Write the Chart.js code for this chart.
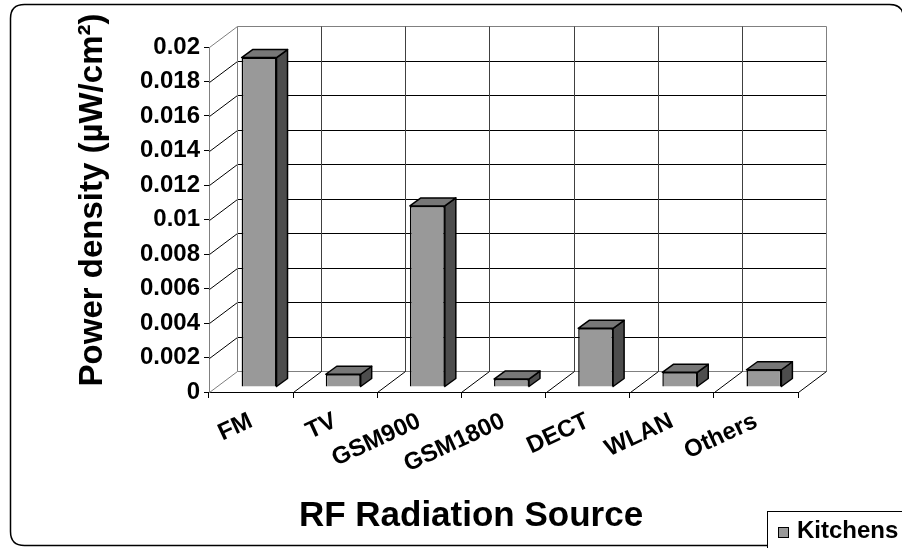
<!DOCTYPE html>
<html>
<head>
<meta charset="utf-8">
<title>RF Radiation Source - Kitchens</title>
<script src="https://cdn.jsdelivr.net/npm/chart.js@4.4.1/dist/chart.umd.min.js"></script>
<style>
    body { margin: 0; background: #fff; }
    #wrap { width: 902px; height: 548px; }
</style>
</head>
<body>
<div id="wrap"><canvas id="rfChart" width="902" height="548"></canvas></div>
<script>
// Chart data
var sources = ['FM', 'TV', 'GSM900', 'GSM1800', 'DECT', 'WLAN', 'Others'];
var kitchens = [0.0191, 0.00074, 0.0105, 0.00046, 0.0034, 0.00085, 0.001];
var seriesName = 'Kitchens';
var yMax = 0.02;
var yStep = 0.002;
var xTitle = 'RF Radiation Source';
var yTitle = 'Power density (\u00b5W/cm\u00b2)';

(function () {
    'use strict';

    var FONT = '"Liberation Sans", Arial, sans-serif';
    // 3D look of the old spreadsheet chart
    var wallDx = 28, wallDy = -21;     // depth of the floor / side wall
    var shiftX = 8, shiftY = -5;       // bars sit a bit back from the front plane
    var barDx = 11, barDy = -8;        // depth of each bar
    var frontFill = '#999999', topFill = '#777777', sideFill = '#4d4d4d';

    function line(ctx, x1, y1, x2, y2, color) {
        ctx.beginPath();
        ctx.strokeStyle = color;
        ctx.moveTo(x1, y1);
        ctx.lineTo(x2, y2);
        ctx.stroke();
    }

    function roundRect(ctx, x, y, w, h, r) {
        ctx.beginPath();
        ctx.moveTo(x + r, y);
        ctx.lineTo(x + w - r, y);
        ctx.quadraticCurveTo(x + w, y, x + w, y + r);
        ctx.lineTo(x + w, y + h - r);
        ctx.quadraticCurveTo(x + w, y + h, x + w - r, y + h);
        ctx.lineTo(x + r, y + h);
        ctx.quadraticCurveTo(x, y + h, x, y + h - r);
        ctx.lineTo(x, y + r);
        ctx.quadraticCurveTo(x, y, x + r, y);
        ctx.closePath();
    }

    var excel3d = {
        id: 'excel3d',
        beforeDraw: function (chart) {
            var ctx = chart.ctx;
            ctx.save();
            ctx.fillStyle = '#fff';
            ctx.fillRect(0, 0, chart.width, chart.height);
            ctx.lineWidth = 1.5;
            ctx.strokeStyle = '#000';
            roundRect(ctx, 10.5, 4.5, 893, 541, 14);
            ctx.stroke();
            ctx.restore();
        },
        beforeDatasetsDraw: function (chart) {
            var ctx = chart.ctx;
            var a = chart.chartArea;
            var xs = chart.scales.x, ys = chart.scales.y;
            var left = Math.round(a.left) + 0.5, right = Math.round(a.right) + 0.5;
            var bottom = Math.round(a.bottom) + 0.5;
            var n = sources.length;

            ctx.save();
            ctx.lineWidth = 1;

            // side wall diagonals and back wall horizontal lines
            ys.ticks.forEach(function (t) {
                var py = Math.round(ys.getPixelForValue(t.value)) + 0.5;
                var edge = (t.value === 0 || Math.abs(t.value - yMax) < 1e-9);
                var c = edge ? '#808080' : '#000';
                if (t.value !== 0) {
                    line(ctx, left, py, left + wallDx, py + wallDy, c);
                }
                line(ctx, left + wallDx, py + wallDy, right + wallDx, py + wallDy, c);
            });

            var topBack = Math.round(ys.getPixelForValue(yMax)) + 0.5 + wallDy;
            // back wall verticals and floor diagonals at category boundaries
            for (var i = 0; i <= n; i++) {
                var bx = Math.round(xs.getPixelForValue(i - 0.5)) + 0.5;
                var edge = (i === 0 || i === n);
                line(ctx, bx + wallDx, bottom + wallDy, bx + wallDx, topBack, edge ? '#808080' : '#404040');
                line(ctx, bx, bottom, bx + wallDx, bottom + wallDy, i === 0 ? '#808080' : '#000');
            }
            ctx.restore();

            // bars are drawn a little behind the front plane
            ctx.save();
            ctx.translate(shiftX, shiftY);
        },
        afterDatasetsDraw: function (chart) {
            var ctx = chart.ctx;
            var meta = chart.getDatasetMeta(0);

            ctx.lineWidth = 1.5;
            ctx.strokeStyle = '#000';
            ctx.lineJoin = 'round';
            meta.data.forEach(function (bar) {
                var p = bar.getProps(['x', 'y', 'base', 'width'], true);
                var L = p.x - p.width / 2, R = p.x + p.width / 2;
                var top = p.y, base = p.base;

                // side face
                ctx.beginPath();
                ctx.moveTo(R, top);
                ctx.lineTo(R + barDx, top + barDy);
                ctx.lineTo(R + barDx, base + barDy);
                ctx.lineTo(R, base);
                ctx.closePath();
                ctx.fillStyle = sideFill;
                ctx.fill();
                ctx.stroke();

                // top face
                ctx.beginPath();
                ctx.moveTo(L, top);
                ctx.lineTo(L + barDx, top + barDy);
                ctx.lineTo(R + barDx, top + barDy);
                ctx.lineTo(R, top);
                ctx.closePath();
                ctx.fillStyle = topFill;
                ctx.fill();
                ctx.stroke();
            });
            ctx.restore();
        },
        afterDraw: function (chart) {
            var ctx = chart.ctx;
            ctx.save();
            ctx.fillStyle = '#000';

            // axis titles
            ctx.font = 'bold 35px ' + FONT;
            ctx.textAlign = 'center';
            ctx.textBaseline = 'middle';
            ctx.fillText(xTitle, 471, 516);

            ctx.save();
            ctx.translate(93, 200);
            ctx.rotate(-Math.PI / 2);
            ctx.font = 'bold 33px ' + FONT;
            ctx.fillText(yTitle, 0, 0);
            ctx.restore();

            // legend box in the lower right corner
            var ds = chart.data.datasets[0];
            ctx.lineWidth = 1;
            ctx.strokeStyle = '#000';
            ctx.fillStyle = '#fff';
            ctx.fillRect(767, 511, 160, 60);
            ctx.strokeRect(767.5, 511.5, 160, 60);
            ctx.fillStyle = ds.backgroundColor;
            ctx.fillRect(778, 527, 11, 11);
            ctx.strokeRect(778.5, 527.5, 10, 10);
            ctx.fillStyle = '#000';
            ctx.font = 'bold 24px ' + FONT;
            ctx.textAlign = 'left';
            ctx.textBaseline = 'middle';
            ctx.fillText(ds.label, 797, 531);
            ctx.restore();
        }
    };

    var ctx = document.getElementById('rfChart').getContext('2d');
    var rfChart = new Chart(ctx, {
        type: 'bar',
        data: {
            labels: sources,
            datasets: [{
                label: seriesName,
                data: kitchens,
                backgroundColor: frontFill,
                borderColor: '#000',
                borderWidth: 1.5,
                categoryPercentage: 1,
                barPercentage: 0.415,
                clip: false
            }]
        },
        options: {
            responsive: false,
            animation: false,
            devicePixelRatio: 1,
            layout: {
                padding: { top: 47, right: 104, left: 0, bottom: 0 }
            },
            plugins: {
                legend: { display: false },
                tooltip: { enabled: false }
            },
            scales: {
                x: {
                    ticks: {
                        autoSkip: false,
                        minRotation: 25,
                        maxRotation: 25,
                        padding: 9,
                        color: '#000',
                        font: { family: FONT, size: 24, weight: 'bold' }
                    },
                    grid: {
                        offset: true,
                        drawOnChartArea: false,
                        tickLength: 6,
                        color: '#000'
                    },
                    border: { color: '#000', width: 1 },
                    afterFit: function (scale) { scale.height = 156; }
                },
                y: {
                    min: 0,
                    max: yMax,
                    ticks: {
                        stepSize: yStep,
                        padding: 4,
                        color: '#000',
                        font: { family: FONT, size: 24, weight: 'bold' },
                        callback: function (v) { return String(+v.toFixed(3)); }
                    },
                    grid: {
                        drawOnChartArea: false,
                        tickLength: 5,
                        color: '#000'
                    },
                    border: { color: '#808080', width: 1 },
                    afterFit: function (scale) { scale.width = 209; }
                }
            }
        },
        plugins: [excel3d]
    });
})();
</script>
</body>
</html>
